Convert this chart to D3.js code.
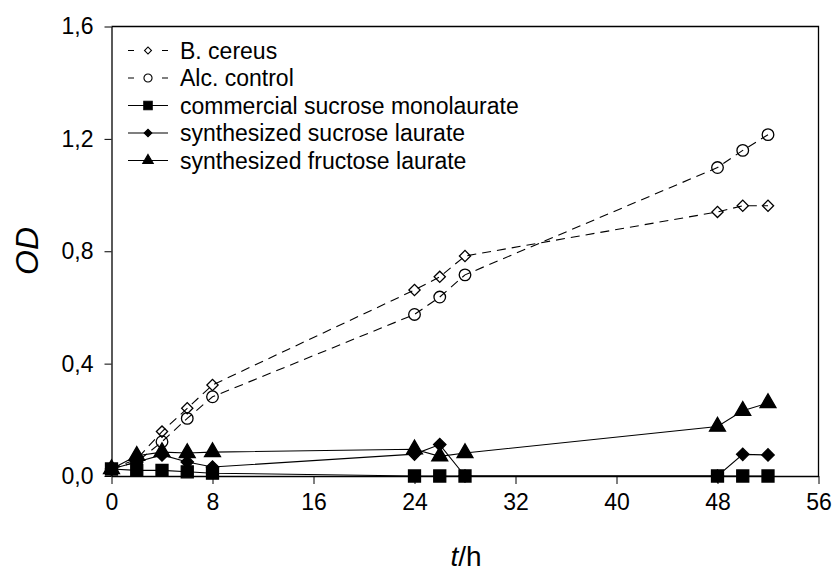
<!DOCTYPE html>
<html>
<head>
<meta charset="utf-8">
<script src="https://cdn.jsdelivr.net/npm/d3@7"></script>
<style>
  html, body { margin: 0; padding: 0; background: #fff; }
  svg { display: block; font-family: Arial, "Liberation Sans", sans-serif; }
</style>
</head>
<body>
<svg id="chart" width="833" height="573"></svg>
<script>
// ---- data ----
const hours = [0, 2, 4, 6, 8, 24, 26, 28, 48, 50, 52];
const bCereus = [0.025, 0.06, 0.158, 0.241, 0.324, 0.662, 0.709, 0.783, 0.940, 0.962, 0.962];
const alcControl = [0.025, 0.05, 0.122, 0.205, 0.282, 0.575, 0.637, 0.716, 1.098, 1.159, 1.215];
const commercialSucrose = [0.025, 0.02, 0.02, 0.015, 0.01, 0.0, 0.0, 0.0, 0.0, 0.0, 0.0];
const synthSucrose = [0.025, 0.05, 0.075, 0.05, 0.032, 0.078, 0.112, 0.0, 0.0, 0.077, 0.075];
const synthFructose = [0.025, 0.072, 0.085, 0.082, 0.085, 0.095, 0.07, 0.082, 0.176, 0.232, 0.26];
const seriesNames = ["B. cereus", "Alc. control", "commercial sucrose monolaurate", "synthesized sucrose laurate", "synthesized fructose laurate"];
const xTicks = [0, 8, 16, 24, 32, 40, 48, 56];
const yTicks = [0, 0.4, 0.8, 1.2, 1.6];

const series = [
  { name: seriesNames[0], values: bCereus, shape: "diamond", filled: false, dashed: true },
  { name: seriesNames[1], values: alcControl, shape: "circle", filled: false, dashed: true },
  { name: seriesNames[2], values: commercialSucrose, shape: "square", filled: true, dashed: false },
  { name: seriesNames[3], values: synthSucrose, shape: "diamond", filled: true, dashed: false },
  { name: seriesNames[4], values: synthFructose, shape: "triangle", filled: true, dashed: false }
];
// drawing order: filled ones from last to first so squares sit on top
const drawOrder = [4, 3, 2, 0, 1];

// ---- layout ----
const svg = d3.select("#chart");
const x = d3.scaleLinear().domain([0, 56]).range([111.5, 818.5]);
const y = d3.scaleLinear().domain([0, 1.6]).range([476, 26.5]);

// plot frame (top and right)
svg.append("path")
  .attr("d", `M${x(0)},${y(1.6)}H${x(56)}V${y(0)}`)
  .attr("fill", "none").attr("stroke", "#000").attr("stroke-width", 1.3);

// axes
const xAxis = d3.axisBottom(x).tickValues(xTicks).tickSize(8).tickSizeOuter(0).tickPadding(10)
  .tickFormat(d3.format("d"));
const gx = svg.append("g").attr("transform", `translate(0,${y(0)})`).call(xAxis);
gx.select(".domain").attr("stroke-width", 1.3);
gx.selectAll("text").attr("font-size", 23).attr("fill", "#000")
  .attr("font-family", "Arial, 'Liberation Sans', sans-serif");

const yAxis = d3.axisLeft(y).tickValues(yTicks).tickSize(7).tickSizeOuter(0).tickPadding(11)
  .tickFormat(d => d3.format(".1f")(d).replace(".", ","));
const gy = svg.append("g").attr("transform", `translate(${x(0)},0)`).call(yAxis);
gy.select(".domain").attr("stroke-width", 1.3);
gy.selectAll("text").attr("font-size", 23).attr("fill", "#000")
  .attr("font-family", "Arial, 'Liberation Sans', sans-serif");

// axis titles
const xt = svg.append("text").attr("x", 466).attr("y", 566).attr("text-anchor", "middle")
  .attr("font-size", 28).attr("fill", "#000");
xt.append("tspan").attr("font-style", "italic").text("t");
xt.append("tspan").text("/h");

svg.append("text").attr("transform", "translate(38,251) rotate(-90)")
  .attr("text-anchor", "middle").attr("font-size", 32).attr("font-style", "italic")
  .attr("fill", "#000").text("OD");

// ---- markers ----
function markerPath(s, legend) {
  const f = legend ? 0.62 : 1;
  if (s.shape === "diamond") {
    const hd = (s.filled ? 6.2 : 5.6) * f;           // half diagonal
    const side = hd * Math.SQRT2;
    return { d: d3.symbol().type(d3.symbolSquare).size(side * side)(), rot: 45 };
  }
  if (s.shape === "circle") {
    const r = 5.8 * (legend ? 0.7 : 1);
    return { d: d3.symbol().type(d3.symbolCircle).size(Math.PI * r * r)(), rot: 0 };
  }
  if (s.shape === "square") {
    const a = 12 * (legend ? 0.7 : 1);
    return { d: d3.symbol().type(d3.symbolSquare).size(a * a)(), rot: 0 };
  }
  const sz = legend ? 48 : 110;
  return { d: d3.symbol().type(d3.symbolTriangle).size(sz)(), rot: 0 };
}

const line = d3.line().x(d => x(d[0])).y(d => y(d[1]));

drawOrder.forEach(k => {
  const s = series[k];
  const pts = hours.map((h, i) => [h, s.values[i]]);
  const m = markerPath(s, false);
  const g = svg.append("g");
  g.append("path").attr("d", line(pts)).attr("fill", "none").attr("stroke", "#000")
    .attr("stroke-width", 1.1).attr("stroke-dasharray", s.dashed ? "9,6" : null);
  g.selectAll("path.m").data(pts).enter().append("path").attr("class", "m")
    .attr("transform", d => `translate(${x(d[0])},${y(d[1])}) rotate(${m.rot})`)
    .attr("d", m.d)
    .attr("fill", s.filled ? "#000" : "none").attr("stroke", "#000").attr("stroke-width", 1.3);
});

// ---- legend ----
const leg = svg.append("g");
series.forEach((s, i) => {
  const by = 58.5 + i * 27.5;
  const cy = by - 8;
  const g = leg.append("g");
  if (s.dashed) {
    g.append("path").attr("d", `M128,${cy}H134M162,${cy}H168`).attr("stroke", "#000").attr("stroke-width", 1.1);
  } else {
    g.append("path").attr("d", `M128,${cy}H168`).attr("stroke", "#000").attr("stroke-width", 1.1);
  }
  const m = markerPath(s, true);
  g.append("path")
    .attr("transform", `translate(148,${cy}) rotate(${m.rot})`)
    .attr("d", m.d)
    .attr("fill", s.filled ? "#000" : "#fff").attr("stroke", "#000").attr("stroke-width", 1.1);
  g.append("text").attr("x", 180).attr("y", by).attr("font-size", 23).attr("fill", "#000").text(s.name);
});
</script>
</body>
</html>
